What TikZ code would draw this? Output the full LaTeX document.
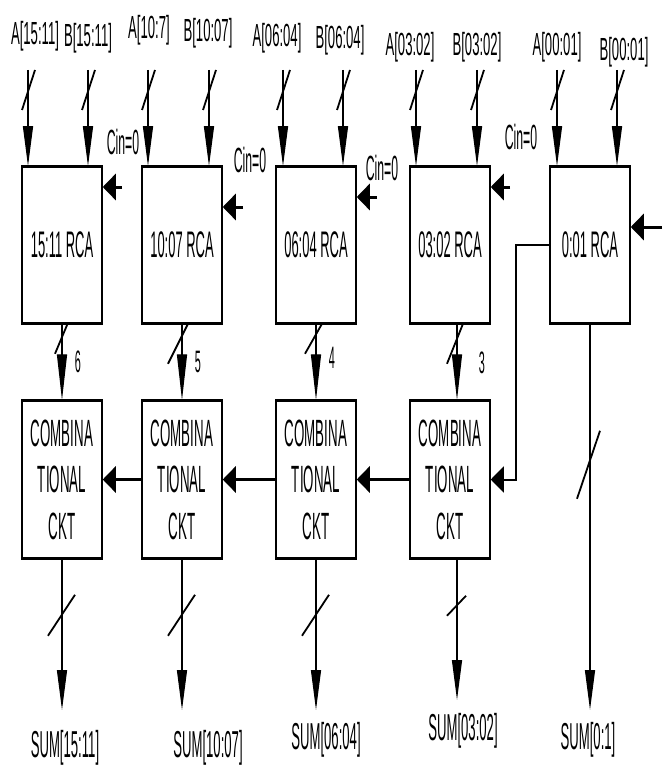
\documentclass[tikz,border=0pt]{standalone}
\usepackage{fontspec}
\setmainfont[FakeStretch=0.35]{Liberation Sans}
\newfontfamily\pinfont[FakeStretch=0.41]{Liberation Sans}
\usetikzlibrary{arrows.meta}
\tikzstyle{rca} = [rectangle, minimum width=80pt, minimum height=156pt, text centered, draw=black, line width=1.5pt, font=\fontsize{37}{44}\selectfont]
\tikzstyle{comb} = [rectangle, minimum width=80pt, minimum height=157pt, align=center, draw=black, line width=1.5pt, font=\fontsize{38}{46.5}\selectfont]
\tikzstyle{edgebar} = [line width=3.2pt]
\tikzstyle{wire} = [line width=1.3pt, -{Triangle[length=40pt,width=10pt]}]
\tikzstyle{link} = [line width=1.3pt, -{Triangle[length=46pt,width=10pt]}]
\tikzstyle{carry} = [line width=3pt, -{Triangle[length=13pt,width=26pt]}]
\tikzstyle{feed} = [line width=2pt, -{Triangle[length=13pt,width=26pt]}]
\tikzstyle{slash} = [line width=1.8pt]
\tikzstyle{pin} = [font=\pinfont\fontsize{32}{38}\selectfont]
\tikzstyle{cin} = [font=\fontsize{35}{42}\selectfont]
\tikzstyle{width} = [font=\fontsize{31}{36}\selectfont]
\tikzstyle{sum} = [font=\fontsize{37.5}{44}\selectfont]

\begin{document}
\begin{tikzpicture}[x=1pt,y=-1pt]
    \useasboundingbox (0,0) rectangle (662,765);

    % Nodes
    \node[rca] (rca1) at (62,245) {15:11 RCA};
    \node[rca] (rca2) at (182,245) {10:07 RCA};
    \node[rca] (rca3) at (316,245) {06:04 RCA};
    \node[rca] (rca4) at (450,245) {03:02 RCA};
    \node[rca] (rca5) at (590,245) {0:01 RCA};

    \node[comb] (comb1) at (62,479.5) {COMBINA\\TIONAL\\CKT};
    \node[comb] (comb2) at (182,479.5) {COMBINA\\TIONAL\\CKT};
    \node[comb] (comb3) at (316,479.5) {COMBINA\\TIONAL\\CKT};
    \node[comb] (comb4) at (450,479.5) {COMBINA\\TIONAL\\CKT};

    \foreach \b in {rca1,rca2,rca3,rca4,rca5,comb1,comb2,comb3,comb4} {
        \draw[edgebar] (\b.north west) -- (\b.north east);
        \draw[edgebar] (\b.south west) -- (\b.south east);
    }

    \node[pin] (la1) at (35,36) {A[15:11]};
    \node[pin] (lb1) at (88,38) {B[15:11]};
    \node[pin] (la2) at (149,30) {A[10:7]};
    \node[pin] (lb2) at (208,33) {B[10:07]};
    \node[pin] (la3) at (277,38) {A[06:04]};
    \node[pin] (lb3) at (340,40) {B[06:04]};
    \node[pin] (la4) at (410,47) {A[03:02]};
    \node[pin] (lb4) at (477,47) {B[03:02]};
    \node[pin] (la5) at (557,47) {A[00:01]};
    \node[pin] (lb5) at (624,52) {B[00:01]};

    \node[cin] (cin1) at (123,142) {Cin=0};
    \node[cin] (cin2) at (250,160) {Cin=0};
    \node[cin] (cin3) at (382,168) {Cin=0};
    \node[cin] (cin4) at (521,137) {Cin=0};

    \node[width] (w1) at (78,362) {6};
    \node[width] (w2) at (198,362) {5};
    \node[width] (w3) at (332,358) {4};
    \node[width] (w4) at (482,363) {3};

    \node[sum] (sum1) at (65,748) {SUM[15:11]};
    \node[sum] (sum2) at (208,748) {SUM[10:07]};
    \node[sum] (sum3) at (326,740) {SUM[06:04]};
    \node[sum] (sum4) at (463,731) {SUM[03:02]};
    \node[sum] (sum5) at (588,740) {SUM[0:1]};

    \coordinate (a1) at (28,70);  \coordinate (b1) at (88,70);
    \coordinate (a2) at (148,70); \coordinate (b2) at (209,70);
    \coordinate (a3) at (283,70); \coordinate (b3) at (343,70);
    \coordinate (a4) at (416,70); \coordinate (b4) at (477,70);
    \coordinate (a5) at (557,70); \coordinate (b5) at (617,70);

    \coordinate (c1) at (122,187);
    \coordinate (c2) at (243,207);
    \coordinate (c3) at (377,197);
    \coordinate (c4) at (510,187);
    \coordinate (c5) at (662,227);

    \coordinate (o1) at (62,710);
    \coordinate (o2) at (182,710);
    \coordinate (o3) at (316,710);
    \coordinate (o4) at (457,700);
    \coordinate (o5) at (590,710);

    % Arrows
    \foreach \p/\r in {a1/rca1,b1/rca1,a2/rca2,b2/rca2,a3/rca3,b3/rca3,a4/rca4,b4/rca4,a5/rca5,b5/rca5} {
        \draw[wire] (\p) -- (\p |- \r.north);
        \draw[slash] ([shift={(-6,40)}]\p) -- ([shift={(7,0)}]\p);
    }

    \draw[carry] (c1) -- (c1 -| rca1.east);
    \draw[carry] (c2) -- (c2 -| rca2.east);
    \draw[carry] (c3) -- (c3 -| rca3.east);
    \draw[carry] (c4) -- (c4 -| rca4.east);
    \draw[carry] (c5) -- (c5 -| rca5.east);

    \draw[link] (rca1) -- (comb1);
    \draw[link] (rca2) -- (comb2);
    \draw[link] (rca3) -- (comb3);
    \draw[link] ([xshift=7pt]rca4.south) -- ([xshift=7pt]comb4.north);
    \draw[slash] ([shift={(-7,30)}]rca1.south) -- ([shift={(6,-1)}]rca1.south);
    \draw[slash] ([shift={(-14,40)}]rca2.south) -- ([shift={(6,0)}]rca2.south);
    \draw[slash] ([shift={(-11,30)}]rca3.south) -- ([shift={(6,0)}]rca3.south);
    \draw[slash] ([shift={(-3,40)}]rca4.south) -- ([shift={(13,0)}]rca4.south);

    \draw[carry] (comb2) -- (comb1);
    \draw[carry] (comb3) -- (comb2);
    \draw[carry] (comb4) -- (comb3);
    \draw[feed] (rca5.west) -- ++(-33,0) |- (comb4.east);

    \draw[wire] (comb1.south) -- (o1);
    \draw[wire] (comb2.south) -- (o2);
    \draw[wire] (comb3.south) -- (o3);
    \draw[wire] ([xshift=7pt]comb4.south) -- (o4);
    \draw[wire] (rca5.south) -- (o5);
    \draw[slash] ([shift={(-14,77)}]comb1.south) -- ([shift={(13,36)}]comb1.south);
    \draw[slash] ([shift={(-14,77)}]comb2.south) -- ([shift={(13,36)}]comb2.south);
    \draw[slash] ([shift={(-14,77)}]comb3.south) -- ([shift={(13,36)}]comb3.south);
    \draw[slash] ([shift={(-3,57)}]comb4.south) -- ([shift={(16,37)}]comb4.south);
    \draw[slash] ([shift={(-13,175)}]rca5.south) -- ([shift={(10,107)}]rca5.south);

\end{tikzpicture}
\end{document}
